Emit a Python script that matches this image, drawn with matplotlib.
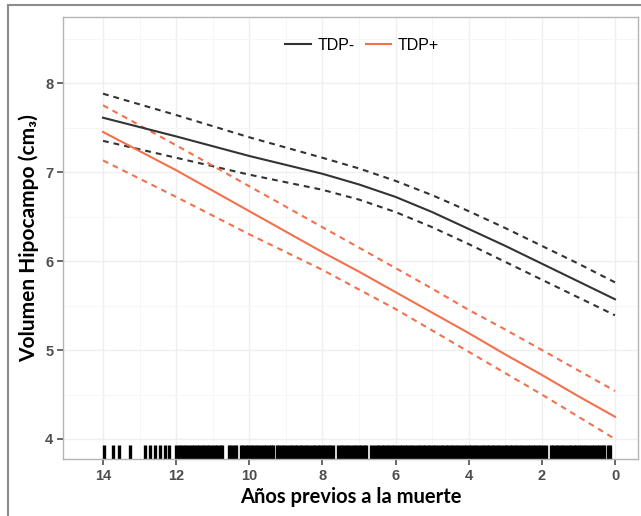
import matplotlib
matplotlib.use("Agg")
import matplotlib.pyplot as plt
from matplotlib.lines import Line2D
from matplotlib.patches import Rectangle
import numpy as np

# years before death (x axis runs 14 -> 0)
years = [14, 12, 10, 8, 7, 6, 5, 4, 3, 2, 1, 0]

# TDP- fit and confidence band
tdp_neg = [7.61, 7.40, 7.18, 6.98, 6.86, 6.72, 6.55, 6.36, 6.17, 5.97, 5.77, 5.57]
tdp_neg_hi = [7.88, 7.64, 7.39, 7.16, 7.04, 6.90, 6.74, 6.56, 6.37, 6.17, 5.97, 5.76]
tdp_neg_lo = [7.35, 7.16, 6.97, 6.80, 6.69, 6.55, 6.38, 6.19, 5.99, 5.79, 5.59, 5.39]

# TDP+ fit and confidence band
tdp_pos = [7.45, 7.02, 6.56, 6.10, 5.88, 5.65, 5.42, 5.19, 4.95, 4.72, 4.48, 4.25]
tdp_pos_hi = [7.75, 7.30, 6.84, 6.38, 6.15, 5.92, 5.69, 5.45, 5.23, 5.00, 4.77, 4.54]
tdp_pos_lo = [7.13, 6.72, 6.30, 5.90, 5.68, 5.46, 5.22, 4.98, 4.74, 4.50, 4.25, 4.00]

# observation times shown as rug
rug = [
    13.97, 13.72, 13.55, 13.26, 12.85, 12.71, 12.58, 12.44, 12.30, 12.19,
    12.00, 11.93, 11.86, 11.79, 11.72, 11.65, 11.58, 11.51, 11.44, 11.37,
    11.30, 11.23, 11.16, 11.09, 11.02, 10.95, 10.88, 10.81, 10.75,
    10.56, 10.49, 10.42, 10.35,
    10.24, 10.17, 10.10, 10.03, 9.96, 9.89, 9.82, 9.75, 9.68, 9.61, 9.54,
    9.47, 9.40, 9.35,
    9.25, 9.18, 9.11, 9.04, 8.97, 8.90, 8.83, 8.76, 8.69, 8.62, 8.55, 8.48,
    8.41, 8.34, 8.27, 8.20, 8.13, 8.06, 7.99, 7.92, 7.85, 7.78, 7.71,
    7.57, 7.50, 7.43, 7.36, 7.29, 7.22, 7.15, 7.08, 7.01, 6.94, 6.87, 6.80,
    6.66, 6.59, 6.52, 6.45, 6.38, 6.31, 6.24, 6.17, 6.10, 6.03, 5.96, 5.89,
    5.82, 5.75, 5.68, 5.61, 5.54, 5.47, 5.40, 5.33, 5.26, 5.19, 5.12, 5.05,
    4.98, 4.91, 4.84, 4.77, 4.70, 4.63, 4.56, 4.49, 4.42, 4.35, 4.28, 4.21,
    4.14, 4.07, 4.00, 3.93, 3.86, 3.79, 3.72, 3.65, 3.58, 3.51, 3.44, 3.37,
    3.30, 3.23, 3.16, 3.09, 3.02, 2.95, 2.88, 2.81, 2.74, 2.67, 2.60, 2.53,
    2.46, 2.39, 2.32, 2.25, 2.18, 2.11, 2.04, 1.97, 1.90,
    1.76, 1.69, 1.62, 1.55, 1.48, 1.41, 1.34, 1.27, 1.20, 1.13, 1.06, 0.99,
    0.92, 0.85, 0.78, 0.71, 0.64, 0.57, 0.50, 0.43, 0.36, 0.30,
    0.20, 0.13,
]

x_ticks = [14, 12, 10, 8, 6, 4, 2, 0]
y_ticks = [4, 5, 6, 7, 8]

BLACK = "#333333"
ORANGE = "#f2714d"
TICK_GREY = "#4d4d4d"

W, H = 641, 516
fig = plt.figure(figsize=(W / 100, H / 100), dpi=100)
fig.patch.set_facecolor("white")

# outer frame of the original figure
fig.patches.append(Rectangle((8 / W, -0.05), 1.1, 1 - 5 / H + 0.05,
                             transform=fig.transFigure, fill=False,
                             edgecolor="#8c8c8c", linewidth=1.5))

left, right, top, bottom = 63, 638, 17, 459
ax = fig.add_axes([left / W, 1 - bottom / H, (right - left) / W, (bottom - top) / H])

px_per_year = (615 - 103) / 14
px_per_unit = (439 - 83) / 4
ax.set_xlim(14 + (103 - left) / px_per_year, 0 - (right - 615) / px_per_year)
ax.set_ylim(4 - (bottom - 439) / px_per_unit, 8 + (83 - top) / px_per_unit)

ax.set_xticks(x_ticks)
ax.set_xticks(np.arange(1, 15, 2), minor=True)
ax.set_yticks(y_ticks)
ax.set_yticks([4.5, 5.5, 6.5, 7.5, 8.5], minor=True)
ax.grid(True, which="major", color="#efefef", linewidth=1.0)
ax.grid(True, which="minor", color="#f6f6f6", linewidth=0.7)
ax.set_axisbelow(True)

dash = (2.8, 2.4)
ax.plot(years, tdp_neg_hi, color=BLACK, lw=1.5, dashes=dash)
ax.plot(years, tdp_neg_lo, color=BLACK, lw=1.5, dashes=dash)
ax.plot(years, tdp_pos_hi, color=ORANGE, lw=1.5, dashes=dash)
ax.plot(years, tdp_pos_lo, color=ORANGE, lw=1.5, dashes=dash)
ax.plot(years, tdp_neg, color=BLACK, lw=1.5)
ax.plot(years, tdp_pos, color=ORANGE, lw=1.5)

ax.vlines(rug, 0.0, 0.032, transform=ax.get_xaxis_transform(),
          color="black", linewidth=2.4)

for side in ax.spines.values():
    side.set_color("#b5b5b5")
    side.set_linewidth(1.0)

ax.tick_params(axis="both", which="major", length=4, width=1.2,
               color=TICK_GREY, labelcolor=TICK_GREY, labelsize=10.5, pad=3)
ax.tick_params(axis="both", which="minor", length=0)
for lab in ax.get_xticklabels() + ax.get_yticklabels():
    lab.set_fontfamily("Liberation Sans")
    lab.set_fontweight("bold")

ax.set_xlabel("Años previos a la muerte", fontfamily="Lato", fontweight="bold",
              fontsize=14.5, labelpad=3)
ax.set_ylabel("Volumen Hipocampo (cm₃)", fontfamily=["Lato", "DejaVu Sans"],
              fontweight="bold", fontsize=15, labelpad=4)

handles = [Line2D([], [], color=BLACK, lw=1.5), Line2D([], [], color=ORANGE, lw=1.5)]
ax.legend(handles, ["TDP-", "TDP+"], loc="upper center", ncol=2,
          bbox_to_anchor=(0.52, 0.985), frameon=False, handlelength=1.6,
          handletextpad=0.4, columnspacing=0.7,
          prop={"family": "Liberation Sans", "size": 11.5})

fig.savefig("out.png", dpi=100)
